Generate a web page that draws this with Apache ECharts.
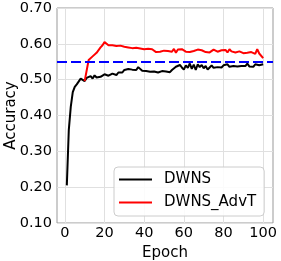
<!DOCTYPE html>
<html><head><meta charset="utf-8">
<script src="https://cdn.jsdelivr.net/npm/echarts@6/dist/echarts.min.js"></script>
<style>html,body{margin:0;padding:0;background:#fff}#c{width:281px;height:261px}</style>
</head><body><div id="c"></div>
<script>
const xTicks = [0, 20, 40, 60, 80, 100];
const yTicks = [0.10, 0.20, 0.30, 0.40, 0.50, 0.60, 0.70];
const baseline = 0.547;
const dwns = [0.205,0.36,0.425,0.465,0.48,0.487,0.49,0.503,0.50,0.496,
0.505,0.50,0.51,0.503,0.512,0.506,0.51,0.508,0.512,0.515,
0.513,0.511,0.514,0.517,0.516,0.513,0.52,0.524,0.52,0.527,
0.522,0.53,0.525,0.528,0.532,0.527,0.535,0.53,0.525,0.53,
0.524,0.527,0.522,0.525,0.523,0.525,0.52,0.522,0.524,0.521,
0.523,0.524,0.521,0.527,0.53,0.536,0.532,0.541,0.534,0.528,
0.54,0.533,0.545,0.53,0.542,0.527,0.543,0.535,0.541,0.532,
0.538,0.528,0.534,0.54,0.533,0.536,0.535,0.538,0.534,0.54,
0.537,0.543,0.536,0.54,0.538,0.541,0.537,0.54,0.538,0.54,
0.538,0.545,0.537,0.541,0.536,0.543,0.538,0.54,0.539,0.543];
const dwnsAdvT = [null,null,null,null,null,null,null,null,null,0.496,
0.50,0.555,0.56,0.565,0.567,0.575,0.58,0.59,0.596,0.605,
0.6,0.596,0.598,0.596,0.592,0.594,0.597,0.595,0.59,0.592,
0.588,0.59,0.587,0.588,0.592,0.589,0.588,0.587,0.589,0.585,
0.587,0.586,0.584,0.585,0.58,0.577,0.575,0.578,0.583,0.581,
0.585,0.58,0.584,0.578,0.586,0.575,0.584,0.58,0.585,0.582,
0.578,0.58,0.577,0.578,0.58,0.578,0.584,0.586,0.582,0.58,
0.577,0.579,0.576,0.58,0.584,0.58,0.578,0.576,0.582,0.578,
0.583,0.576,0.585,0.579,0.581,0.576,0.58,0.579,0.577,0.574,
0.578,0.575,0.574,0.577,0.574,0.572,0.585,0.573,0.568,0.56];
const epochs = dwns.map((_, i) => i + 1);

const font = 'DejaVu Sans';
const chart = echarts.init(document.getElementById('c'));
chart.setOption({
  animation: false,
  grid: {left: 57, right: 8, top: 8, bottom: 38, show: true, borderColor: '#999', borderWidth: 1,
    outerBoundsMode: 'none', containLabel: false},
  xAxis: {
    type: 'value', min: -3.95, max: 104.95,
    name: 'Epoch', nameLocation: 'middle', nameGap: 23, nameMoveOverlap: false,
    nameTextStyle: {fontFamily: font, fontSize: 15, color: '#000'},
    axisLine: {show: false}, axisTick: {show: false, customValues: xTicks},
    axisLabel: {customValues: xTicks, fontFamily: font, fontSize: 14.5, color: '#000', margin: 3},
    splitLine: {show: true, lineStyle: {color: '#e0e0e0', width: 1}}
  },
  yAxis: {
    type: 'value', min: 0.1, max: 0.7, interval: 0.1,
    name: 'Accuracy', nameLocation: 'middle', nameGap: 38, nameMoveOverlap: false,
    nameTextStyle: {fontFamily: font, fontSize: 15, color: '#000'},
    axisLine: {show: false}, axisTick: {show: false},
    axisLabel: {fontFamily: font, fontSize: 14.5, color: '#000', margin: 5,
      formatter: v => v.toFixed(2)},
    splitLine: {show: true, lineStyle: {color: '#e0e0e0', width: 1}}
  },
  legend: {
    left: 114, top: 167, orient: 'vertical',
    padding: [5, 8, 6, 5], itemGap: 8, itemWidth: 33, itemHeight: 2,
    icon: 'rect',
    backgroundColor: 'rgba(255,255,255,0.85)', borderColor: '#ccc', borderWidth: 1, borderRadius: 4,
    textStyle: {fontFamily: font, fontSize: 15, color: '#000', lineHeight: 15, padding: [0, 0, 0, 7]},
    data: ['DWNS', 'DWNS_AdvT']
  },
  series: [
    {name: 'DWNS', type: 'line', symbol: 'none', z: 3,
     data: epochs.map((e, i) => [e, dwns[i]]),
     lineStyle: {color: '#000', width: 2}, itemStyle: {color: '#000'},
     markLine: {silent: true, symbol: 'none', label: {show: false},
       lineStyle: {color: '#0000ff', width: 2, type: [10, 4]},
       data: [{yAxis: baseline}]}},
    {name: 'DWNS_AdvT', type: 'line', symbol: 'none', z: 4,
     data: epochs.map((e, i) => [e, dwnsAdvT[i]]),
     lineStyle: {color: '#ff0000', width: 2}, itemStyle: {color: '#ff0000'}}
  ]
});
</script></body></html>
